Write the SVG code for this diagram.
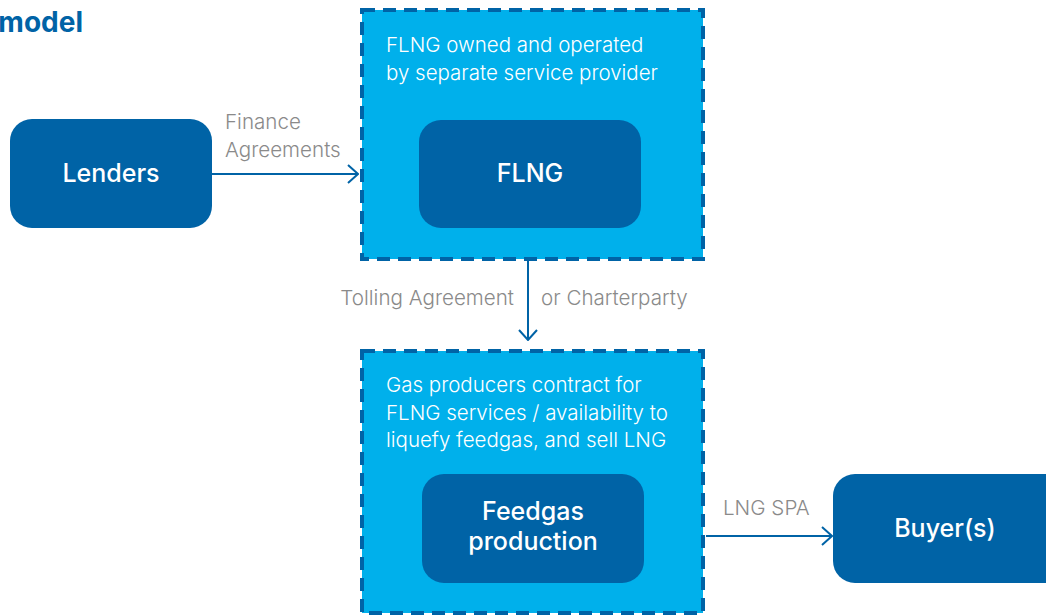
<svg xmlns="http://www.w3.org/2000/svg" width="1046" height="616" viewBox="0 0 1046 616">
  <defs>
    <marker id="chev" viewBox="0 0 12 20" refX="11" refY="10" markerWidth="12" markerHeight="20" markerUnits="userSpaceOnUse" orient="auto">
      <path d="M1 1 L11 10 L1 19" fill="none" stroke="#0063a6" stroke-width="2"/>
    </marker>
    <style>
      .title { font-family: Inter, "Liberation Sans", sans-serif; font-weight: 700; font-size: 28px; fill: #0063a6; }
      .zone { fill: #00b0eb; stroke: #0063a6; stroke-width: 4; stroke-dasharray: 13 8; }
      .node { fill: #0063a6; }
      .nodeText { font-family: Inter, "Liberation Sans", sans-serif; font-weight: 500; font-size: 25px; fill: #ffffff; text-anchor: middle; }
      .zoneText { font-family: Inter, "Liberation Sans", sans-serif; font-weight: 300; font-size: 20.5px; fill: #ffffff; }
      .label { font-family: Inter, "Liberation Sans", sans-serif; font-weight: 300; font-size: 20.6px; fill: #8a8a8a; }
      .conn { fill: none; stroke: #0063a6; stroke-width: 2; marker-end: url(#chev); }
    </style>
  </defs>

  <text class="title" x="83" y="32" text-anchor="end">model</text>

  <!-- FLNG service-provider zone -->
  <g id="flng-zone">
    <rect class="zone" x="362" y="10" width="341" height="249"/>
    <text class="zoneText" x="386" y="52">FLNG owned and operated</text>
    <text class="zoneText" x="386" y="80">by separate service provider</text>
  </g>

  <!-- Gas producers zone -->
  <g id="producer-zone">
    <rect class="zone" x="362" y="351" width="341" height="262"/>
    <text class="zoneText" x="386" y="392">Gas producers contract for</text>
    <text class="zoneText" x="386" y="420">FLNG services / availability to</text>
    <text class="zoneText" x="386" y="447">liquefy feedgas, and sell LNG</text>
  </g>

  <g id="lenders">
    <rect class="node" x="10" y="119" width="202" height="109" rx="22"/>
    <text class="nodeText" x="111" y="182">Lenders</text>
  </g>

  <g id="flng">
    <rect class="node" x="419" y="120" width="222" height="108" rx="22"/>
    <text class="nodeText" x="530" y="182">FLNG</text>
  </g>

  <g id="feedgas">
    <rect class="node" x="422" y="474" width="222" height="109" rx="22"/>
    <text class="nodeText" x="533" y="520">Feedgas</text>
    <text class="nodeText" x="533" y="550">production</text>
  </g>

  <g id="buyers">
    <rect class="node" x="833" y="474" width="240" height="109" rx="22"/>
    <text class="nodeText" x="945" y="537">Buyer(s)</text>
  </g>

  <!-- Contract links -->
  <g id="connectors">
    <path class="conn" d="M212 174 H358"/>
    <text class="label" x="225" y="129">Finance</text>
    <text class="label" x="225" y="157">Agreements</text>

    <path class="conn" d="M528 261 V340"/>
    <text class="label" x="514" y="305" text-anchor="end">Tolling Agreement</text>
    <text class="label" x="541" y="305">or Charterparty</text>

    <path class="conn" d="M706 536 H832"/>
    <text class="label" x="723" y="515">LNG SPA</text>
  </g>
</svg>
